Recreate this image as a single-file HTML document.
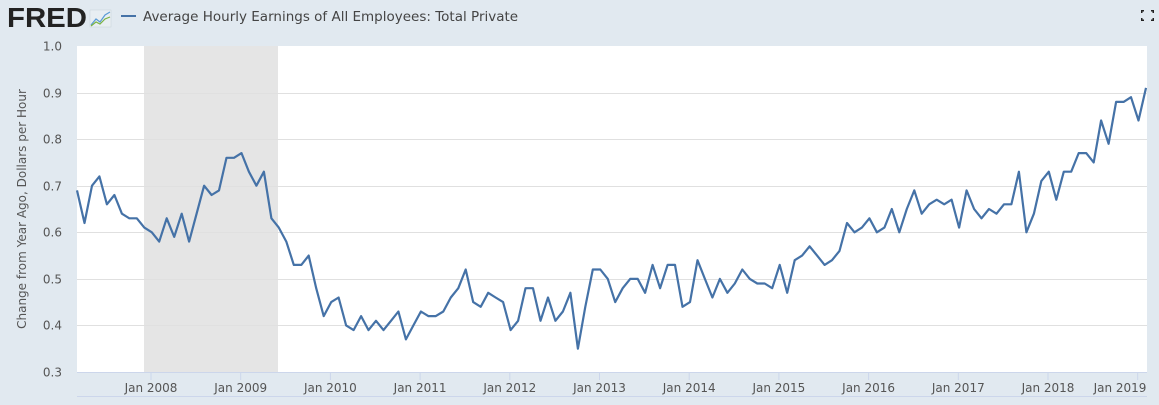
<!DOCTYPE html>
<html><head><meta charset="utf-8"><style>
body{margin:0;background:#e1e9f0;width:1159px;height:405px;overflow:hidden;font-family:"Liberation Sans",sans-serif}
</style></head><body>
<svg id="s" width="1159" height="405" xmlns="http://www.w3.org/2000/svg" style="position:absolute;left:0;top:0">
<rect width="1159" height="405" fill="#e1e9f0"/>
<text x="7" y="27" font-family="Liberation Sans, sans-serif" font-weight="bold" font-size="28" fill="#222" textLength="80" lengthAdjust="spacingAndGlyphs">FRED</text>
<rect x="90" y="10" width="21" height="17" fill="#e8eef2" stroke="#c8d2d8" stroke-width="0.5"/>
<polyline points="91,25 96,19 100,22 105,15 110,12" fill="none" stroke="#5a9bd5" stroke-width="1.2"/>
<polyline points="91,26 96,22 100,24 105,19 110,17" fill="none" stroke="#7bb342" stroke-width="1.2"/>
<line x1="121" y1="16" x2="136" y2="16" stroke="#4572a7" stroke-width="2"/>
<text x="143" y="21" font-size="13.5" fill="#444" font-family="DejaVu Sans, sans-serif">Average Hourly Earnings of All Employees: Total Private</text>
<g fill="#222"><rect x="1141" y="10" width="3" height="1.5"/><rect x="1141" y="10" width="1.5" height="3"/><rect x="1151" y="10" width="3" height="1.5"/><rect x="1152.5" y="10" width="1.5" height="3"/><rect x="1141" y="19.5" width="3" height="1.5"/><rect x="1141" y="18" width="1.5" height="3"/><rect x="1151" y="19.5" width="3" height="1.5"/><rect x="1152.5" y="18" width="1.5" height="3"/></g>
<rect x="77" y="46" width="1070" height="326" fill="#fff"/>
<rect x="144" y="46" width="134" height="326" fill="#e5e5e5"/>
<g id="grid" stroke="#e0e0e0" stroke-width="1"></g>
<g id="lab" font-size="12" fill="#555" text-anchor="end" font-family="DejaVu Sans, sans-serif"></g>
<line x1="77" y1="372.5" x2="1147" y2="372.5" stroke="#ccd6eb"/>
<line x1="77" y1="396.5" x2="1147" y2="396.5" stroke="#ccd6eb"/>
<g id="xt" font-size="12" fill="#555" text-anchor="middle" font-family="DejaVu Sans, sans-serif"></g>
<text transform="translate(26,209) rotate(-90)" font-size="12" fill="#555" text-anchor="middle" font-family="DejaVu Sans, sans-serif">Change from Year Ago, Dollars per Hour</text>
<polyline id="ln" fill="none" stroke="#4572a7" stroke-width="2.2" stroke-linejoin="round"/>
</svg>
<script>
var d=[.69,.62,.70,.72,.66,.68,.64,.63,.63,.61,
.60,.58,.63,.59,.64,.58,.64,.70,.68,.69,.76,.76,
.77,.73,.70,.73,.63,.61,.58,.53,.53,.55,.48,.42,
.45,.46,.40,.39,.42,.39,.41,.39,.41,.43,.37,.40,
.43,.42,.42,.43,.46,.48,.52,.45,.44,.47,.46,.45,
.39,.41,.48,.48,.41,.46,.41,.43,.47,.35,.44,.52,
.52,.50,.45,.48,.50,.50,.47,.53,.48,.53,.53,.44,
.45,.54,.50,.46,.50,.47,.49,.52,.50,.49,.49,.48,
.53,.47,.54,.55,.57,.55,.53,.54,.56,.62,.60,.61,
.63,.60,.61,.65,.60,.65,.69,.64,.66,.67,.66,.67,
.61,.69,.65,.63,.65,.64,.66,.66,.73,.60,.64,.71,
.73,.67,.73,.73,.77,.77,.75,.84,.79,.88,.88,.89,
.84,.91];
var NS="http://www.w3.org/2000/svg";
function Y(v){return 46+(1-v)/0.7*326;}
var dx=(1146-77)/(d.length-1),p=[];
for(var i=0;i<d.length;i++)p.push((77+i*dx).toFixed(1)+","+Y(d[i]).toFixed(1));
document.getElementById("ln").setAttribute("points",p.join(" "));
var g=document.getElementById("grid"),l=document.getElementById("lab");
for(var k=3;k<=10;k++){var v=k/10,y=Math.round(Y(v))+0.5;
if(k<10&&k>3){var ln=document.createElementNS(NS,"line");ln.setAttribute("x1",77);ln.setAttribute("x2",1147);ln.setAttribute("y1",y);ln.setAttribute("y2",y);g.appendChild(ln);}
var t=document.createElementNS(NS,"text");t.setAttribute("x",62);t.setAttribute("y",y+4);t.textContent=v.toFixed(1);l.appendChild(t);}
var xt=document.getElementById("xt");
for(var yr=2008;yr<=2019;yr++){var x=151+(yr-2008)*89.7;
var tk=document.createElementNS(NS,"line");tk.setAttribute("x1",x);tk.setAttribute("x2",x);tk.setAttribute("y1",373);tk.setAttribute("y2",380);tk.setAttribute("stroke","#ccd6eb");xt.appendChild(tk);
var t=document.createElementNS(NS,"text");t.setAttribute("x",yr==2019?1120:x);t.setAttribute("y",392);t.textContent="Jan "+yr;xt.appendChild(t);}
</script>
</body></html>
